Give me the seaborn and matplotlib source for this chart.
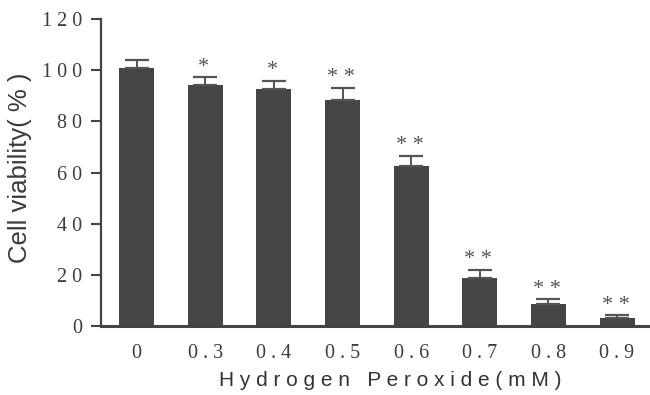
import numpy as np
import pandas as pd
import matplotlib
matplotlib.use("Agg")
import matplotlib.pyplot as plt
import seaborn as sns

# ---- data ----
concentrations = ["0", "0.3", "0.4", "0.5", "0.6", "0.7", "0.8", "0.9"]
viability = [100.8, 94.2, 92.5, 88.3, 62.5, 18.8, 8.6, 3.1]
errors = [3.0, 3.0, 3.4, 4.8, 4.0, 3.2, 1.8, 1.1]
significance = ["", "*", "*", "* *", "* *", "* *", "* *", "* *"]
y_ticks = [0, 20, 40, 60, 80, 100, 120]
x_label = "Hydrogen Peroxide(mM)"
y_label = "Cell viability(%)"

df = pd.DataFrame({"conc": concentrations, "viability": viability})

sns.set_theme(style="white")
plt.rcParams["font.family"] = ["Liberation Serif", "DejaVu Serif"]

W, H = 650, 395
fig = plt.figure(figsize=(W / 100, H / 100), dpi=100)
ax = fig.add_axes([101 / W, 1 - 326 / H, (W - 101) / W, (326 - 19) / H])

bar_color = "#454547"
line_color = "#444444"

sns.barplot(data=df, x="conc", y="viability", color=bar_color, saturation=1,
            width=0.51, errorbar=None, ax=ax, linewidth=0)

pos = np.arange(len(viability))
ax.errorbar(pos, viability, yerr=[np.zeros(len(errors)), errors], fmt="none",
            ecolor="#555555", elinewidth=1.4, capsize=8.5, capthick=1.6, zorder=3)

for p, v, e, s in zip(pos, viability, errors, significance):
    if s:
        ax.annotate(s, xy=(p, v + e), xytext=(-1, 0.5), textcoords="offset points",
                    ha="center", va="bottom", fontsize=16, color="#555555",
                    family=["Liberation Serif"])

def spaced(t):
    return " ".join(list(t))

ax.set_ylim(0, 120)
ax.set_xlim(-0.52, 7.48)
ax.set_yticks(y_ticks)
ax.set_yticklabels([spaced(str(t)) for t in y_ticks], fontsize=14.5, color="#3c3c3c")
ax.set_xticks(pos)
ax.set_xticklabels([spaced(c) for c in concentrations], fontsize=14.5, color="#3c3c3c")

ax.tick_params(axis="y", length=7.5, width=1.5, color=line_color, pad=6, left=True)
ax.tick_params(axis="x", length=0, pad=13)

for side in ["top", "right"]:
    ax.spines[side].set_visible(False)
ax.spines["left"].set_color(line_color)
ax.spines["left"].set_linewidth(1.6)
ax.spines["bottom"].set_color(line_color)
ax.spines["bottom"].set_linewidth(2.2)

ax.set_xlabel(spaced(x_label), fontsize=15, color="#333333",
              family=["Liberation Sans"])
ax.xaxis.set_label_coords(0.527, -0.147, transform=ax.transAxes)
ax.xaxis.label.set_va("top")
ax.set_ylabel(y_label.replace("(%)", "( % )"), fontsize=18.5, color="#3a3a3a",
              family=["Liberation Sans"])
ax.yaxis.set_label_coords(-0.125, 0.515, transform=ax.transAxes)

fig.savefig("out.png", dpi=100)
